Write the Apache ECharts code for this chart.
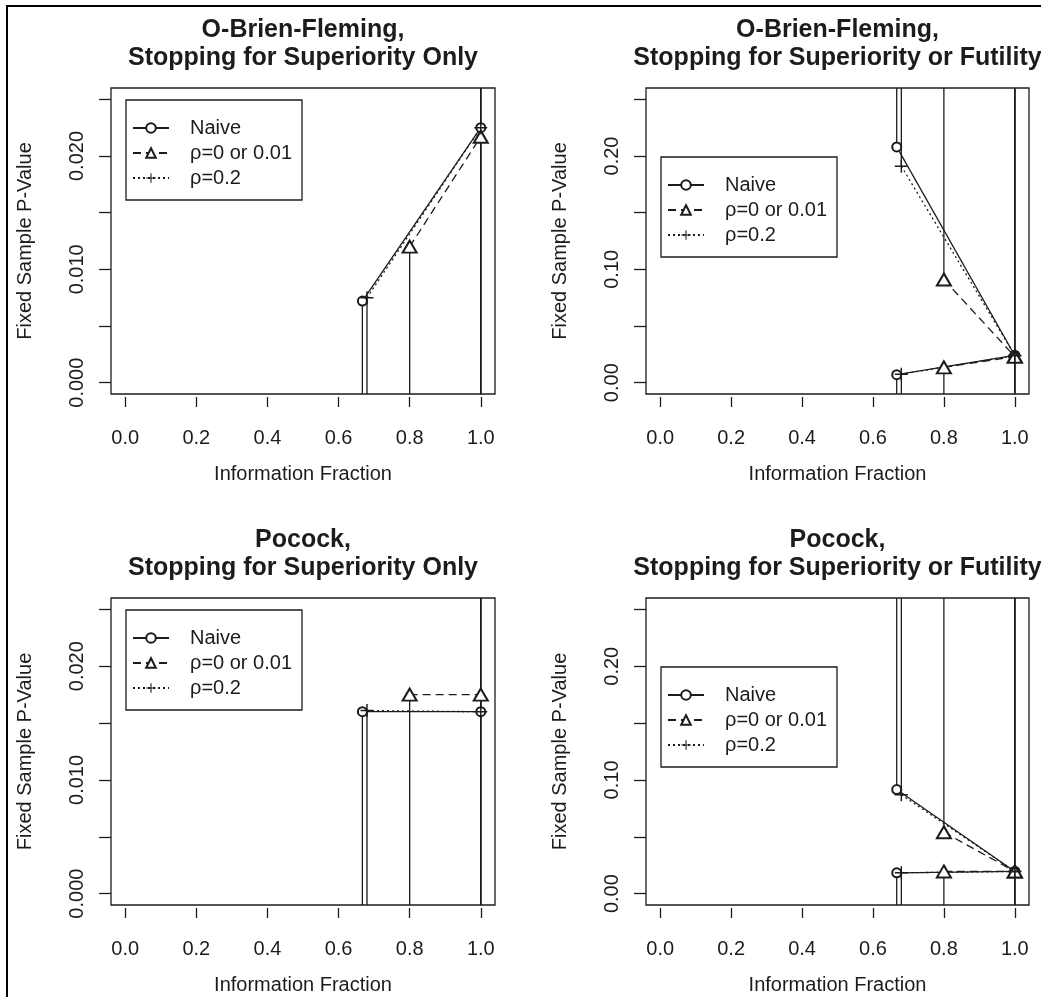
<!DOCTYPE html>
<html lang="en">
<head>
    <meta charset="UTF-8">
    <title>Fixed sample p-value boundaries</title>
    <script src="https://cdn.jsdelivr.net/npm/echarts@6/dist/echarts.min.js"></script>
    <style>
        html, body { margin: 0; padding: 0; background: #fff; }
        #chart { position: absolute; left: 0; top: 0; width: 1041px; height: 997px; }
        #frame { position: absolute; left: 6px; top: 5px; right: 0; bottom: 0;
                 border-left: 2px solid #000; border-top: 2px solid #000; pointer-events: none; }
    </style>
</head>
<body>
<div id="chart"></div>
<div id="frame"></div>
<script>
    // information fractions of the interim looks
    var xNaive = [0.667, 1.0]
    var xRho0 = [0.8, 1.0]
    var xRho02 = [0.68, 1.0]

    // O-Brien-Fleming, superiority only
    var obfSupNaive = [0.0072, 0.0225]
    var obfSupRho0 = [0.0120, 0.0217]
    var obfSupRho02 = [0.0075, 0.0225]

    // O-Brien-Fleming, superiority or futility
    var obfEffNaive = [0.007, 0.024]
    var obfEffRho0 = [0.0135, 0.023]
    var obfEffRho02 = [0.0075, 0.024]
    var obfFutNaive = [0.208, 0.024]
    var obfFutRho0 = [0.091, 0.023]
    var obfFutRho02 = [0.191, 0.024]

    // Pocock, superiority only
    var pocSupNaive = [0.0160, 0.0160]
    var pocSupRho0 = [0.0175, 0.0175]
    var pocSupRho02 = [0.0161, 0.0160]

    // Pocock, superiority or futility
    var pocEffNaive = [0.0183, 0.0195]
    var pocEffRho0 = [0.0195, 0.0195]
    var pocEffRho02 = [0.0183, 0.0195]
    var pocFutNaive = [0.0915, 0.0195]
    var pocFutRho0 = [0.054, 0.0195]
    var pocFutRho02 = [0.087, 0.0195]

    var titles = [
        'O-Brien-Fleming,\nStopping for Superiority Only',
        'O-Brien-Fleming,\nStopping for Superiority or Futility',
        'Pocock,\nStopping for Superiority Only',
        'Pocock,\nStopping for Superiority or Futility'
    ]
    var legendNames = ['Naive', '\u03c1=0 or 0.01', '\u03c1=0.2']

    var xTicks = [0, 0.2, 0.4, 0.6, 0.8, 1.0]
    var yTicksSmall = [0, 0.005, 0.010, 0.015, 0.020, 0.025]
    var yLabelsSmall = [0, 0.010, 0.020]
    var yTicksBig = [0, 0.05, 0.10, 0.15, 0.20, 0.25]
    var yLabelsBig = [0, 0.10, 0.20]

    var FONT = 'Liberation Sans, Arial, Helvetica, sans-serif'
    var INK = '#1c1c1c'
    var PLUS = 'path://M4.45,0H5.55V10H4.45Z M0,4.45H10V5.55H0Z'

    // R style marker / line type per group
    var styles = [
        {symbol: 'emptyCircle', size: 9, dash: 'solid'},
        {symbol: 'emptyTriangle', size: [14, 12], dash: [8, 5]},
        {symbol: PLUS, size: 13, dash: [2, 3]}
    ]

    var panels = [
        {groups: [[xNaive, obfSupNaive], [xRho0, obfSupRho0], [xRho02, obfSupRho02]],
         yMin: -0.001, yMax: 0.026, ticks: yTicksSmall, labels: yLabelsSmall, digits: 3},
        {groups: [[xNaive, obfEffNaive, obfFutNaive], [xRho0, obfEffRho0, obfFutRho0], [xRho02, obfEffRho02, obfFutRho02]],
         yMin: -0.01, yMax: 0.26, ticks: yTicksBig, labels: yLabelsBig, digits: 2},
        {groups: [[xNaive, pocSupNaive], [xRho0, pocSupRho0], [xRho02, pocSupRho02]],
         yMin: -0.001, yMax: 0.026, ticks: yTicksSmall, labels: yLabelsSmall, digits: 3},
        {groups: [[xNaive, pocEffNaive, pocFutNaive], [xRho0, pocEffRho0, pocFutRho0], [xRho02, pocEffRho02, pocFutRho02]],
         yMin: -0.01, yMax: 0.26, ticks: yTicksBig, labels: yLabelsBig, digits: 2}
    ]

    var boxes = [
        {left: 111, top: 88, width: 384, height: 306},
        {left: 646, top: 88, width: 383, height: 306},
        {left: 111, top: 598, width: 384, height: 307},
        {left: 646, top: 598, width: 383, height: 307}
    ]

    function zip(xs, ys) {
        var out = []
        for (var i = 0; i < xs.length; i++) out.push([xs[i], ys[i]])
        return out
    }

    var grid = [], xAxis = [], yAxis = [], title = [], legend = [], series = []

    panels.forEach(function (p, k) {
        var b = boxes[k]
        grid.push({left: b.left, top: b.top, width: b.width, height: b.height, show: true,
            borderColor: INK, borderWidth: 1.3, backgroundColor: 'transparent'})
        xAxis.push({
            type: 'value', gridIndex: k, min: -0.04, max: 1.04, offset: 3, position: 'bottom',
            axisLine: {show: false, onZero: false}, splitLine: {show: false},
            axisTick: {show: true, inside: false, length: 10, customValues: xTicks, lineStyle: {color: INK, width: 1.3}},
            axisLabel: {customValues: xTicks, margin: 31, fontSize: 20, color: INK, fontFamily: FONT,
                formatter: function (v) { return v.toFixed(1) }},
            name: 'Information Fraction', nameLocation: 'middle', nameGap: 67,
            nameTextStyle: {fontSize: 20, color: INK, fontFamily: FONT}
        })
        yAxis.push({
            type: 'value', gridIndex: k, min: p.yMin, max: p.yMax, position: 'left',
            axisLine: {show: false, onZero: false}, splitLine: {show: false},
            axisTick: {show: true, inside: false, length: 12, customValues: p.ticks, lineStyle: {color: INK, width: 1.3}},
            axisLabel: {customValues: p.labels, rotate: 90, margin: 24, fontSize: 20, color: INK, fontFamily: FONT,
                formatter: function (v) { return v.toFixed(p.digits) }},
            name: 'Fixed Sample P-Value', nameLocation: 'middle', nameGap: 76,
            nameTextStyle: {fontSize: 20, color: INK, fontFamily: FONT}
        })
        title.push({
            text: titles[k], left: b.left + b.width / 2, top: b.top - 72, textAlign: 'center', padding: 0,
            textStyle: {fontSize: 25, fontWeight: 'bold', lineHeight: 28, color: INK, fontFamily: FONT}
        })
        var futility = p.groups[0].length > 2
        legend.push({
            data: legendNames, orient: 'vertical',
            left: b.left + 15, top: futility ? b.top + 69 : b.top + 12,
            borderColor: INK, borderWidth: 1.3, padding: [18, 10, 12, 6],
            itemWidth: 36, itemHeight: 12, itemGap: 5, selectedMode: false,
            textStyle: {fontSize: 20, color: INK, fontFamily: FONT, padding: [0, 0, 0, 16]}
        })

        // vertical segments: superiority bound down to the axis floor,
        // futility bound up to the ceiling, final look across the whole range
        var segs = []
        p.groups.forEach(function (g, j) {
            var xs = g[0], eff = g[1], fut = g[2]
            var st = styles[j]
            series.push({
                type: 'line', name: legendNames[j], xAxisIndex: k, yAxisIndex: k,
                data: zip(xs, eff), symbol: st.symbol, symbolSize: st.size,
                lineStyle: {color: INK, width: 1.3, type: st.dash},
                itemStyle: {color: INK, borderWidth: 1.3}, z: 3, animation: false
            })
            if (fut) {
                series.push({
                    type: 'line', name: legendNames[j], xAxisIndex: k, yAxisIndex: k,
                    data: zip(xs, fut), symbol: st.symbol, symbolSize: st.size,
                    lineStyle: {color: INK, width: 1.3, type: st.dash},
                    itemStyle: {color: INK, borderWidth: 1.3}, z: 3, animation: false
                })
            }
            for (var i = 0; i < xs.length; i++) {
                segs.push([xs[i], eff[i], p.yMin])
                if (fut) segs.push([xs[i], fut[i], p.yMax])
                else if (i === xs.length - 1) segs.push([xs[i], eff[i], p.yMax])
            }
        })
        series.push({
            type: 'custom', xAxisIndex: k, yAxisIndex: k, data: segs, z: 2, animation: false,
            encode: {x: 0, y: [1, 2]},
            renderItem: function (params, api) {
                var a = api.coord([api.value(0), api.value(1)])
                var c = api.coord([api.value(0), api.value(2)])
                return {type: 'line', shape: {x1: a[0], y1: a[1], x2: c[0], y2: c[1]},
                    style: {stroke: INK, lineWidth: 1.3}}
            }
        })
    })

    var myChart = echarts.init(document.getElementById('chart'))
    myChart.setOption({
        animation: false,
        backgroundColor: '#fff',
        title: title,
        legend: legend,
        grid: grid,
        xAxis: xAxis,
        yAxis: yAxis,
        series: series
    })
</script>
</body>
</html>
